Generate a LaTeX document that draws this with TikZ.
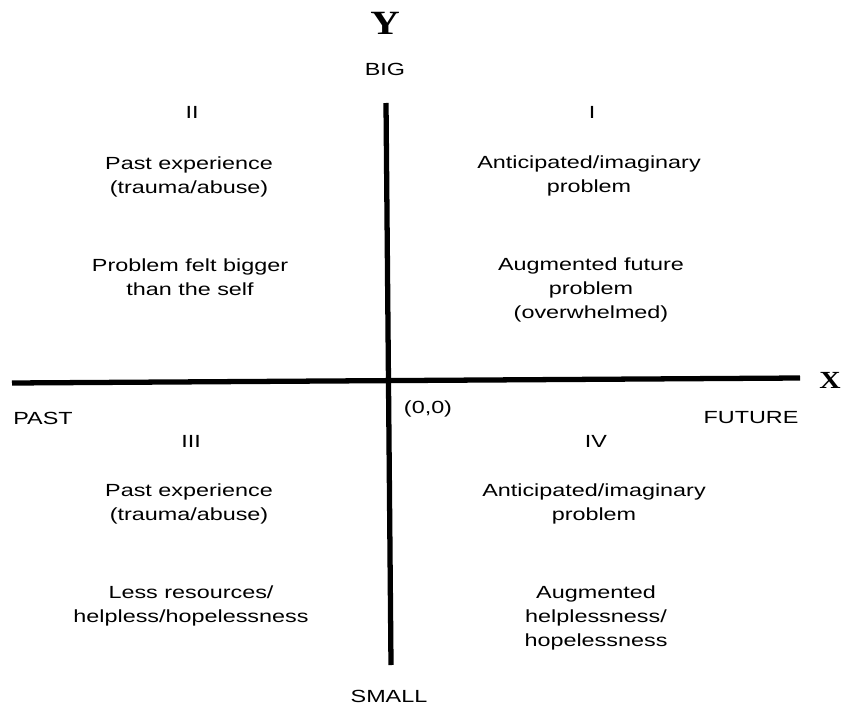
\documentclass[tikz,border=0pt]{standalone}
\usepackage{fontspec}
\setmainfont[FakeStretch=1.33]{Liberation Sans}
\newfontfamily\axisfont[FakeStretch=1.2]{Liberation Serif}
\usetikzlibrary{positioning}

\begin{document}
\begin{tikzpicture}[x=0.03cm,y=-0.03cm]
\tikzstyle{lbl}=[align=center, inner sep=1pt, font=\fontsize{15}{20.5}\selectfont]
\tikzstyle{axname}=[inner sep=1pt, font=\axisfont\bfseries\fontsize{29}{31}\selectfont]
\tikzstyle{axis}=[line width=4.5pt]
\useasboundingbox (0,0) rectangle (842,706);
% axes
\coordinate (ytop) at (386,103);
\coordinate (ybot) at (391,665);
\coordinate (xleft) at (12,383);
\coordinate (xright) at (800,378);
\draw[axis] (ytop) -- (ybot);
\draw[axis] (xleft) -- (xright);
% axis names
\node[axname] (ylab) at (385,23) {Y};
\node[axname, font=\axisfont\bfseries\fontsize{21}{23}\selectfont] (xlab) at (830,380) {X};
\node[lbl] (big) at (385,69) {BIG};
\node[lbl] (small) at (389,696) {SMALL};
\node[lbl] (past) at (43,418) {PAST};
\node[lbl] (future) at (751,418) {FUTURE};
\node[lbl] (orig) at (428,409) {(0,0)};
% quadrant numbers
\node[lbl] (qI) at (592,112) {I};
\node[lbl] (qII) at (192,112) {II};
\node[lbl] (qIII) at (191,441) {III};
\node[lbl] (qIV) at (596,441) {IV};
% texts
\node[lbl] (pastA) at (189,177) {Past experience\\(trauma/abuse)};
\node[lbl] (bigger) at (190,277) {Problem felt bigger\\than the self};
\node[lbl] (antA) at (589,176) {Anticipated/imaginary\\problem};
\node[lbl] (augA) at (591,290) {Augmented future\\problem\\(overwhelmed)};
\node[lbl] (pastB) at (189,504) {Past experience\\(trauma/abuse)};
\node[lbl] (less) at (191,606) {Less resources/\\helpless/hopelessness};
\node[lbl] (antB) at (594,504) {Anticipated/imaginary\\problem};
\node[lbl] (augB) at (596,618) {Augmented\\helplessness/\\hopelessness};
\end{tikzpicture}
\end{document}
